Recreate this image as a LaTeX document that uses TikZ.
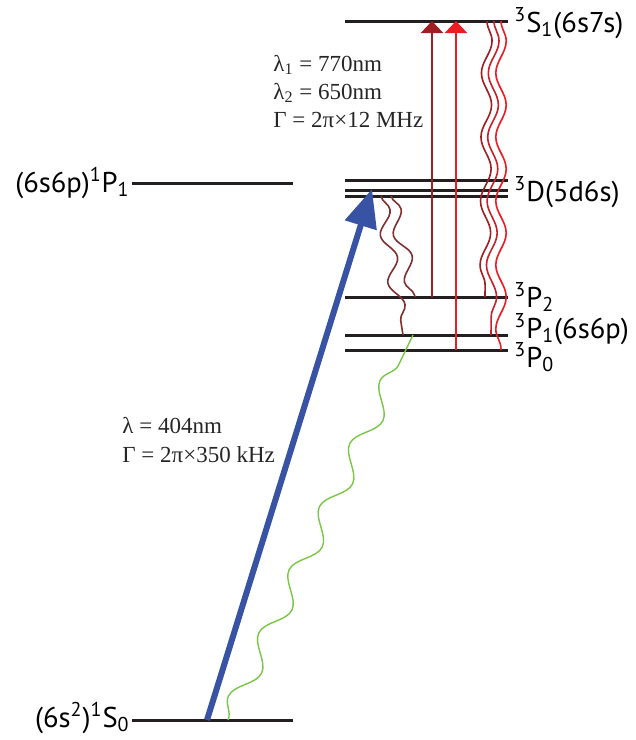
\documentclass[tikz,border=0pt]{standalone}
\usepackage{fontspec}
\setmainfont{Liberation Serif}
\newfontfamily\lvlfont{PT Sans}
\usetikzlibrary{arrows.meta,positioning,decorations.pathmorphing}

\definecolor{lvlblack}{RGB}{35,31,32}
\definecolor{pumpblue}{RGB}{57,83,164}
\definecolor{darkred}{RGB}{158,30,36}
\definecolor{midred}{RGB}{200,32,42}
\definecolor{brightred}{RGB}{237,28,36}
\definecolor{decaybrown}{RGB}{128,48,48}
\definecolor{decaygreen}{RGB}{122,198,70}

\newcommand{\sups}[1]{\textsuperscript{#1}}
\newcommand{\subs}[1]{\textsubscript{#1}}

\begin{document}
\begin{tikzpicture}[
  x=0.5pt, y=-0.5pt,
  level/.style={line width=1.5pt, lvlblack},
  lbl/.style={inner sep=0pt, font=\lvlfont\fontsize{14.3}{16}\selectfont},
  note/.style={inner sep=0pt, anchor=base west, font=\fontsize{11.5}{14}\selectfont, black!85},
  pump/.style={-{Triangle[length=19pt,width=16pt]}, line width=3pt, pumpblue},
  probe/.style={-{Triangle[length=6pt,width=11pt]}, line width=1.25pt},
  decay/.style={decorate, decoration={snake, amplitude=2.6pt, segment length=32pt}, line width=0.8pt}
]
  \useasboundingbox (0,0) rectangle (636,740);

  % levels
  \coordinate (S0w) at (132,720);  \coordinate (S0e) at (293,720);
  \coordinate (P1sw) at (132,183); \coordinate (P1se) at (293,183);
  \coordinate (S1w) at (345,21);   \coordinate (S1e) at (508,21);
  \coordinate (Daw) at (345,180);  \coordinate (Dae) at (508,180);
  \coordinate (Dbw) at (345,190);  \coordinate (Dbe) at (508,190);
  \coordinate (Dcw) at (345,196);  \coordinate (Dce) at (508,196);
  \coordinate (P2w) at (345,297);  \coordinate (P2e) at (508,297);
  \coordinate (P1w) at (345,335);  \coordinate (P1e) at (508,335);
  \coordinate (P0w) at (345,350);  \coordinate (P0e) at (508,350);

  \foreach \lv in {S0,P1s,S1,Da,Db,Dc,P2,P1,P0}
    \draw[level] (\lv w) -- (\lv e);

  % labels
  \node[lbl, anchor=base east] (lS0) at (130,727) {(6s\sups{2})\sups{1}S\subs{0}};
  \node[lbl, anchor=base east] (lP1s) at (130,192) {(6s6p)\sups{1}P\subs{1}};
  \node[lbl, anchor=base west] (lS1) at (514,32) {\sups{3}S\subs{1}(6s7s)};
  \node[lbl, anchor=base west] (lD) at (514,201) {\sups{3}D(5d6s)};
  \node[lbl, anchor=base west] (lP2) at (514,307) {\sups{3}P\subs{2}};
  \node[lbl, anchor=base west] (lP1) at (514,338) {\sups{3}P\subs{1}(6s6p)};
  \node[lbl, anchor=base west] (lP0) at (514,367) {\sups{3}P\subs{0}};

  % transition data
  \node[note] (lamA) at (273,71) {λ\subs{1} = 770nm};
  \node[note] (lamB) at (273,99) {λ\subs{2} = 650nm};
  \node[note] (gamR) at (273,127) {Γ = 2π×12 MHz};
  \node[note] (lamP) at (122,433) {λ = 404nm};
  \node[note] (gamP) at (122,462) {Γ = 2π×350 kHz};

  % arrow ends
  \coordinate (pumpA) at (207,720); \coordinate (pumpB) at (372,189);
  \coordinate (redA) at (432,297);  \coordinate (redB) at (432,21);
  \coordinate (brA) at (456,350);   \coordinate (brB) at (456,21);

  \draw[pump] (pumpA) -- (pumpB);
  \draw[probe, darkred] (redA) -- (redB);
  \draw[probe, brightred] (brA) -- (brB);

  % decays
  \coordinate (dkA) at (381,196); \coordinate (dkB) at (403,335);
  \coordinate (dlA) at (391,196); \coordinate (dlB) at (415,297);
  \draw[decay, decaybrown, decoration={amplitude=3.4pt, segment length=24pt}] (dkA) -- (dkB);
  \draw[decay, decaybrown, decoration={amplitude=3.4pt, segment length=24pt}] (dlA) -- (dlB);

  \coordinate (rkA) at (487,21); \coordinate (rkB) at (485,297);
  \coordinate (rlA) at (494,21); \coordinate (rlB) at (491,335);
  \coordinate (rmA) at (501,21); \coordinate (rmB) at (501,350);
  \draw[decay, darkred] (rkA) -- (rkB);
  \draw[decay, midred] (rlA) -- (rlB);
  \draw[decay, brightred] (rmA) -- (rmB);

  \coordinate (grA) at (228,720); \coordinate (grB) at (413,335);
  \draw[decay, decaygreen, line width=0.7pt, decoration={amplitude=5pt, segment length=35pt}] (grA) -- (grB);
\end{tikzpicture}
\end{document}
